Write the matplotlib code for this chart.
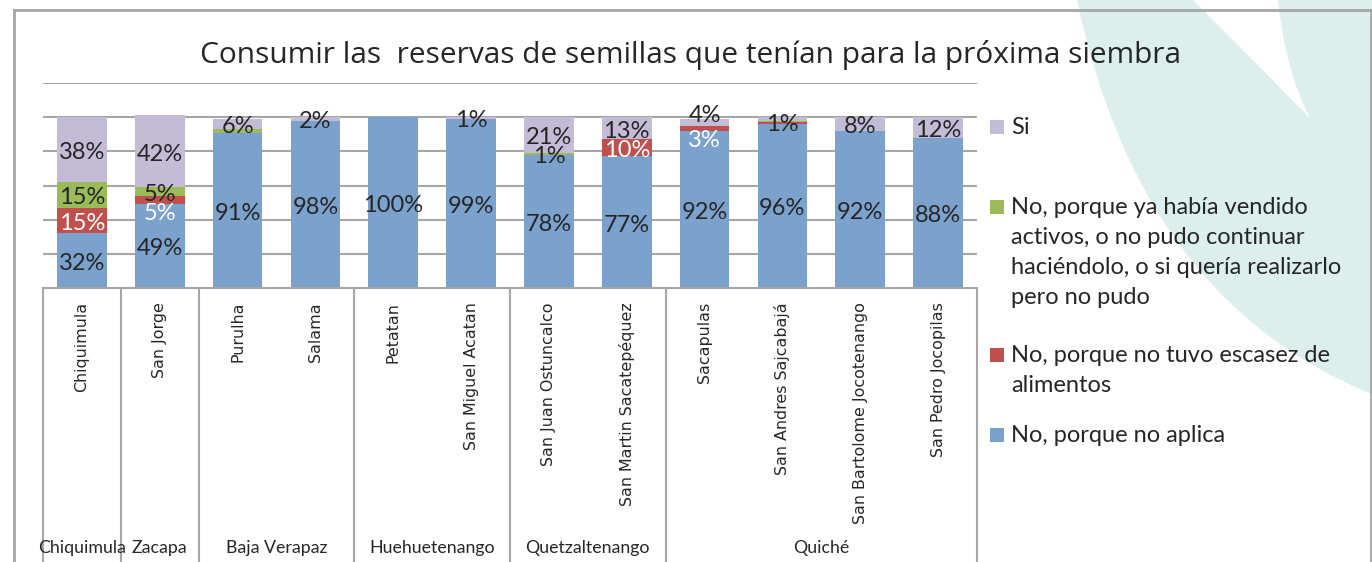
import matplotlib
matplotlib.use("Agg")
import matplotlib.pyplot as plt
import matplotlib.transforms as mtransforms
from matplotlib.patches import PathPatch, Rectangle
from matplotlib.path import Path
from matplotlib.lines import Line2D
import numpy as np

# ---------------------------------------------------------------------------
# data
# ---------------------------------------------------------------------------
municipios = [
    "Chiquimula", "San Jorge", "Purulha", "Salama", "Petatan",
    "San Miguel Acatan", "San Juan Ostuncalco", "San Martin Sacatepéquez",
    "Sacapulas", "San Andres Sajcabajá", "San Bartolome Jocotenango",
    "San Pedro Jocopilas",
]
departamentos = ["Chiquimula", "Zacapa", "Baja Verapaz", "Huehuetenango",
                 "Quetzaltenango", "Quiché"]
municipios_por_depto = [1, 1, 2, 2, 2, 4]

no_aplica = [32, 49, 91, 98, 100, 99, 78, 77, 92, 96, 92, 88]
no_escasez = [15, 5, 0, 0, 0, 0, 0, 10, 3, 1, 0, 0]
no_vendido = [15, 5, 2, 0, 0, 0, 1, 0, 0, 1, 0, 0]
si = [38, 42, 6, 2, 0, 1, 21, 13, 4, 2, 8, 12]

series_names = [
    "No, porque no aplica",
    "No, porque no tuvo escasez de\nalimentos",
    "No, porque ya había vendido\nactivos, o no pudo continuar\nhaciéndolo, o si quería realizarlo\npero no pudo",
    "Si",
]
title = "Consumir las  reservas de semillas que tenían para la próxima siembra"

# ---------------------------------------------------------------------------
# style
# ---------------------------------------------------------------------------
colors = ["#7ba1cd", "#c0504d", "#9bbb59", "#c4bcd7"]
label_colors = ["#262626", "white", "#262626", "#262626"]
grid_c = "#a6a6a6"
text_c = "#262626"
# label tweaks (series index, bar index): hidden / nudged in points
hidden = {(2, 2), (1, 9), (3, 9)}
nudges = {(1, 1): -8, (1, 8): -7, (3, 8): 7}

W, H = 1372, 562
fig = plt.figure(figsize=(W / 100, H / 100), dpi=100)


def fx(x):
    return x / W


def fy(y):
    return 1 - y / H


# decorative teal leaf in the background
leaf = Path(
    [(fx(1077), fy(0)), (fx(1140), fy(300)), (fx(1372), fy(394)),
     (fx(1372), fy(0)), (fx(1077), fy(0))],
    [Path.MOVETO, Path.CURVE3, Path.CURVE3, Path.LINETO, Path.CLOSEPOLY],
)
fig.add_artist(PathPatch(leaf, transform=fig.transFigure, fc="#dcefec",
                         ec="none", zorder=0))
sliver = Path(
    [(fx(1193), fy(0)), (fx(1310), fy(118)), (fx(1285), fy(70)),
     (fx(1278), fy(0)), (fx(1193), fy(0))],
    [Path.MOVETO, Path.LINETO, Path.CURVE3, Path.CURVE3, Path.CLOSEPOLY],
)
fig.add_artist(PathPatch(sliver, transform=fig.transFigure, fc="white",
                         ec="none", zorder=0.5))

# outer frame
for xs, ys in [((14, 1371), (9.5, 9.5)), ((14, 14), (9.5, 562)),
               ((1371, 1371), (9.5, 562))]:
    fig.add_artist(Line2D([fx(v) for v in xs], [fy(v) for v in ys],
                          transform=fig.transFigure, color=grid_c, lw=2))

ax = fig.add_axes([fx(43), fy(288), (977 - 43) / W, 205 / H])
ax.patch.set_alpha(0)
x = np.arange(len(municipios))
stack = [no_aplica, no_escasez, no_vendido, si]
bottom = np.zeros(len(municipios))
for s, vals in enumerate(stack):
    vals = np.array(vals, dtype=float)
    ax.bar(x, vals, bottom=bottom, width=0.64, color=colors[s], zorder=2)
    for i, v in enumerate(vals):
        if v <= 0 or (s, i) in hidden:
            continue
        ax.annotate(f"{v:.0f}%", (i, bottom[i] + v / 2),
                    xytext=(0, nudges.get((s, i), 0) - 2),
                    textcoords="offset points",
                    ha="center", va="center", fontsize=17, family="Lato",
                    color=label_colors[s], zorder=3)
    bottom += vals

ax.set_xlim(-0.5, len(municipios) - 0.5)
ax.set_ylim(0, 120)
ax.set_yticks(np.arange(20, 121, 20))
ax.yaxis.grid(True, color=grid_c, lw=1.5)
ax.set_axisbelow(True)
ax.tick_params(left=False, bottom=False, labelleft=False, labelbottom=False)
for side in ["left", "right", "top"]:
    ax.spines[side].set_visible(False)
ax.spines["bottom"].set_color(grid_c)
ax.spines["bottom"].set_linewidth(1.5)

# multi-level category axis
trans = mtransforms.blended_transform_factory(ax.transData, ax.transAxes)
for i, name in enumerate(municipios):
    ax.text(i, (288 - 302) / 205, name, rotation=90, ha="center", va="top",
            fontsize=11.4, family="DejaVu Sans", color=text_c, transform=trans)
edges = np.concatenate([[0], np.cumsum(municipios_por_depto)]) - 0.5
for e in edges:
    ax.plot([e, e], [0, -1.45], transform=trans, color=grid_c, lw=1.5,
            clip_on=False)
for d, name in enumerate(departamentos):
    ax.text((edges[d] + edges[d + 1]) / 2, (288 - 548) / 205, name,
            ha="center", va="center", fontsize=12.8, family="Lato",
            color=text_c, transform=trans)

# title
fig.text(fx(690), fy(55), title, ha="center", va="center", fontsize=21.5,
         family="Open Sans", color=text_c)

# legend (reverse stacking order)
entry_y = [127, 207, 355, 435]
for k, s in enumerate(reversed(range(len(stack)))):
    y0 = entry_y[k]
    fig.add_artist(Rectangle((fx(990), fy(y0 + 7)), 14 / W, 14 / H,
                             transform=fig.transFigure, fc=colors[s], ec="none"))
    for j, line in enumerate(series_names[s].split("\n")):
        fig.text(fx(1011), fy(y0 + 30 * j), line, ha="left", va="center",
                 fontsize=17, family="Lato", color=text_c)

fig.savefig("out.png", dpi=100)
